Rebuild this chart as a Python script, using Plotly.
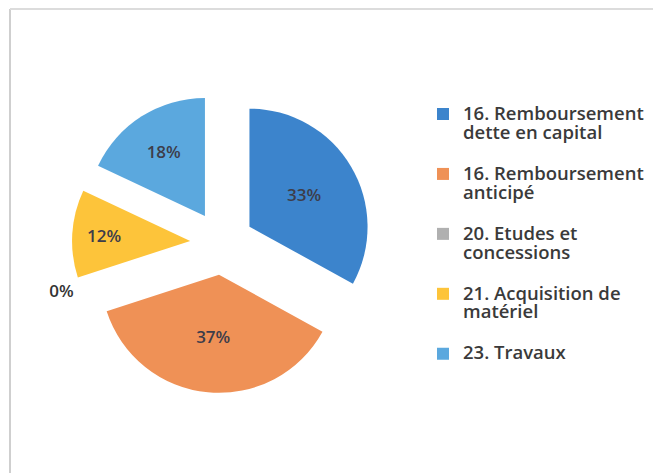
import plotly.graph_objects as go

W, H = 653, 473

categories = [
    "16. Remboursement<br>dette en capital",
    "16. Remboursement<br>anticipé",
    "20. Etudes et<br>concessions",
    "21. Acquisition de<br>matériel",
    "23. Travaux",
]
values = [33, 37, 0, 12, 18]
colors = ["#3c84cc", "#ef9156", "#b0b0b0", "#fdc43a", "#5ba8de"]
text_positions = ["inside", "inside", "outside", "inside", "inside"]

# glyphs at 18.5px; an empty trailing line gives the gap between entries
legend_labels = [f"<span style='font-size:18.5px'>{c}</span><br> " for c in categories[:-1]]
legend_labels.append(f"<span style='font-size:18.5px'>{categories[-1]}</span>")

# pie box in pixels
cx, cy, box = 222, 243, 300
dom_x = [(cx - box / 2) / W, (cx + box / 2) / W]
dom_y = [1 - (cy + box / 2) / H, 1 - (cy - box / 2) / H]

fig = go.Figure(
    go.Pie(
        labels=legend_labels,
        values=values,
        sort=False,
        direction="clockwise",
        rotation=0,
        pull=[0.27] * len(values),
        marker=dict(colors=colors, line=dict(width=0)),
        texttemplate="%{percent:.0%}",
        textposition=text_positions,
        insidetextorientation="horizontal",
        insidetextfont=dict(family="Open Sans", size=17, color="#3d3d4a", weight=600),
        outsidetextfont=dict(family="Open Sans", size=17, color="#333333", weight=600),
        domain=dict(x=dom_x, y=dom_y),
        hoverinfo="label+percent",
        showlegend=True,
    )
)

fig.update_layout(
    width=W,
    height=H,
    margin=dict(l=0, r=0, t=0, b=0, autoexpand=False),
    paper_bgcolor="white",
    plot_bgcolor="white",
    legend=dict(
        x=423 / W,
        y=1 - 98 / H,
        xanchor="left",
        yanchor="top",
        valign="top",
        font=dict(family="Open Sans", size=14.6, color="#3a3a3a", weight=600),
        bgcolor="rgba(0,0,0,0)",
    ),
    shapes=[
        dict(type="line", xref="paper", yref="paper",
             x0=10 / W, x1=10 / W, y0=0, y1=1 - 9 / H,
             line=dict(color="#cfcfcf", width=2)),
        dict(type="line", xref="paper", yref="paper",
             x0=10 / W, x1=1, y0=1 - 9 / H, y1=1 - 9 / H,
             line=dict(color="#dcdcdc", width=2)),
    ],
)

fig.write_html(
    "out.html",
    config={"displayModeBar": False},
    post_script="document.body.style.margin='0px';",
)
